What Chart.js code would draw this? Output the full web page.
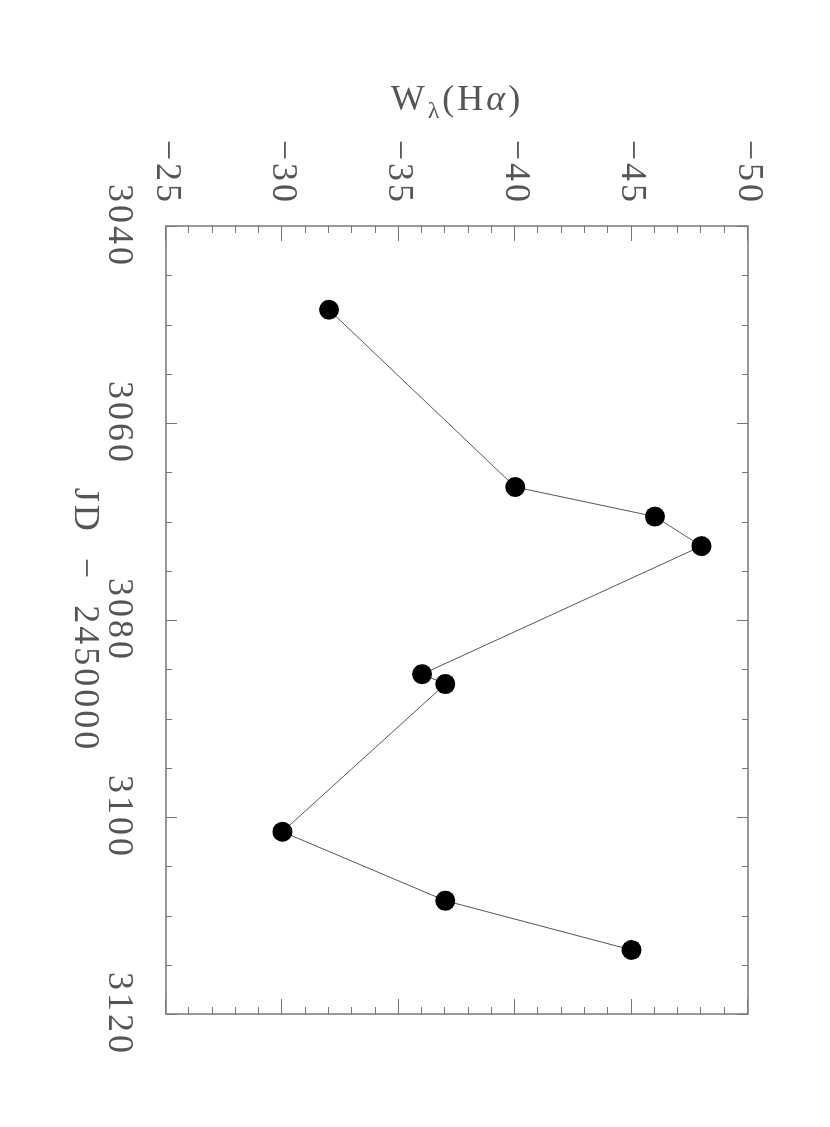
<!DOCTYPE html>
<html>
<head>
<meta charset="utf-8">
<script src="https://cdn.jsdelivr.net/npm/chart.js@4/dist/chart.umd.min.js"></script>
<style>
  html, body { margin: 0; padding: 0; background: #fff; overflow: hidden; width: 830px; height: 1127px; }
  #wrap {
    position: absolute; left: 0; top: 0;
    width: 1127px; height: 830px;
    transform-origin: 0 0;
    transform: translate(830px, 0) rotate(90deg);
  }
</style>
</head>
<body>
<div id="wrap"><canvas id="ewChart" width="1127" height="830"></canvas></div>
<script>
// JD - 2450000 and H-alpha equivalent width
const jd = [3048.5, 3066.5, 3069.5, 3072.5, 3085.5, 3086.5, 3101.5, 3108.5, 3113.5];
const ew = [-32, -40, -46, -48, -36, -37, -30, -37, -45];

const jdTicks = [3040, 3060, 3080, 3100, 3120];
const ewTicks = [-25, -30, -35, -40, -45, -50];
const jdMinorStep = 5;
const ewMinorStep = 1;

const ink = '#555';
const frameColor = '#777';
const fontFamily = "'Liberation Serif', 'DejaVu Serif', serif";

// frame with inward ticks on all four sides
const frameTicks = {
  id: 'frameTicks',
  afterDatasetsDraw(chart) {
    const { ctx, chartArea: a } = chart;
    const xs = chart.scales.x;
    const ys = chart.scales.y;
    ctx.save();
    ctx.strokeStyle = frameColor;
    ctx.lineWidth = 1.5;
    ctx.strokeRect(a.left, a.top, a.right - a.left, a.bottom - a.top);
    ctx.lineWidth = 1;
    ctx.beginPath();
    for (let v = xs.min; v <= xs.max; v += jdMinorStep) {
      const p = Math.round(xs.getPixelForValue(v)) + 0.5;
      const len = jdTicks.includes(v) ? 11 : 6;
      ctx.moveTo(p, a.bottom); ctx.lineTo(p, a.bottom - len);
      ctx.moveTo(p, a.top); ctx.lineTo(p, a.top + len);
    }
    for (let v = ys.min; v <= ys.max; v += ewMinorStep) {
      const p = Math.round(ys.getPixelForValue(v)) + 0.5;
      const len = ewTicks.includes(v) ? 15 : 7;
      ctx.moveTo(a.left, p); ctx.lineTo(a.left + len, p);
      ctx.moveTo(a.right, p); ctx.lineTo(a.right - len, p);
    }
    ctx.stroke();
    ctx.restore();
  }
};

// y title with a subscript lambda
const ewTitle = {
  id: 'ewTitle',
  afterDraw(chart) {
    const { ctx, chartArea: a } = chart;
    const big = '36px ' + fontFamily;
    const small = '24px ' + fontFamily;
    const ital = 'italic 36px ' + fontFamily;
    const parts = [
      { t: 'W', f: big, dy: 0 },
      { t: 'λ', f: small, dy: 8 },
      { t: '(H', f: big, dy: 0 },
      { t: 'α', f: ital, dy: 0 },
      { t: ')', f: big, dy: 0 }
    ];
    ctx.save();
    ctx.fillStyle = ink;
    ctx.textBaseline = 'alphabetic';
    ctx.textAlign = 'left';
    let total = 0;
    parts.forEach(p => { ctx.font = p.f; p.w = ctx.measureText(p.t).width; total += p.w; });
    ctx.translate(110, (a.top + a.bottom) / 2);
    ctx.rotate(-Math.PI / 2);
    let x = -total / 2;
    parts.forEach(p => { ctx.font = p.f; ctx.fillText(p.t, x, p.dy); x += p.w; });
    ctx.restore();
  }
};

const spacing = {
  id: 'spacing',
  beforeDraw(chart) { chart.ctx.letterSpacing = '3px'; }
};

const ctx = document.getElementById('ewChart').getContext('2d');
const ewChart = new Chart(ctx, {
  type: 'line',
  data: {
    datasets: [{
      data: jd.map((d, i) => ({ x: d, y: ew[i] })),
      borderColor: ink,
      borderWidth: 1,
      pointRadius: 10,
      pointBackgroundColor: '#000',
      pointBorderWidth: 0,
      tension: 0
    }]
  },
  options: {
    responsive: false,
    animation: false,
    events: [],
    layout: { padding: { top: 82, right: 113, left: 0, bottom: 0 } },
    plugins: { legend: { display: false }, tooltip: { enabled: false } },
    scales: {
      x: {
        type: 'linear',
        min: 3040,
        max: 3120,
        afterBuildTicks: s => { s.ticks = jdTicks.map(v => ({ value: v })); },
        afterFit: s => { s.height = 166; },
        grid: { display: false },
        border: { display: false },
        ticks: {
          padding: 18,
          maxRotation: 0,
          color: ink,
          font: { family: fontFamily, size: 36 },
          callback: v => String(v)
        },
        title: {
          display: true,
          text: 'JD  −  2450000',
          color: ink,
          font: { family: fontFamily, size: 36 },
          padding: { top: 0, bottom: 63 }
        }
      },
      y: {
        type: 'linear',
        reverse: true,
        min: -50,
        max: -25,
        afterBuildTicks: s => { s.ticks = ewTicks.map(v => ({ value: v })); },
        afterFit: s => { s.width = 226; },
        grid: { display: false },
        border: { display: false },
        ticks: {
          padding: 13,
          color: ink,
          font: { family: fontFamily, size: 36 },
          callback: v => '−' + Math.abs(v)
        }
      }
    }
  },
  plugins: [spacing, frameTicks, ewTitle]
});
</script>
</body>
</html>
